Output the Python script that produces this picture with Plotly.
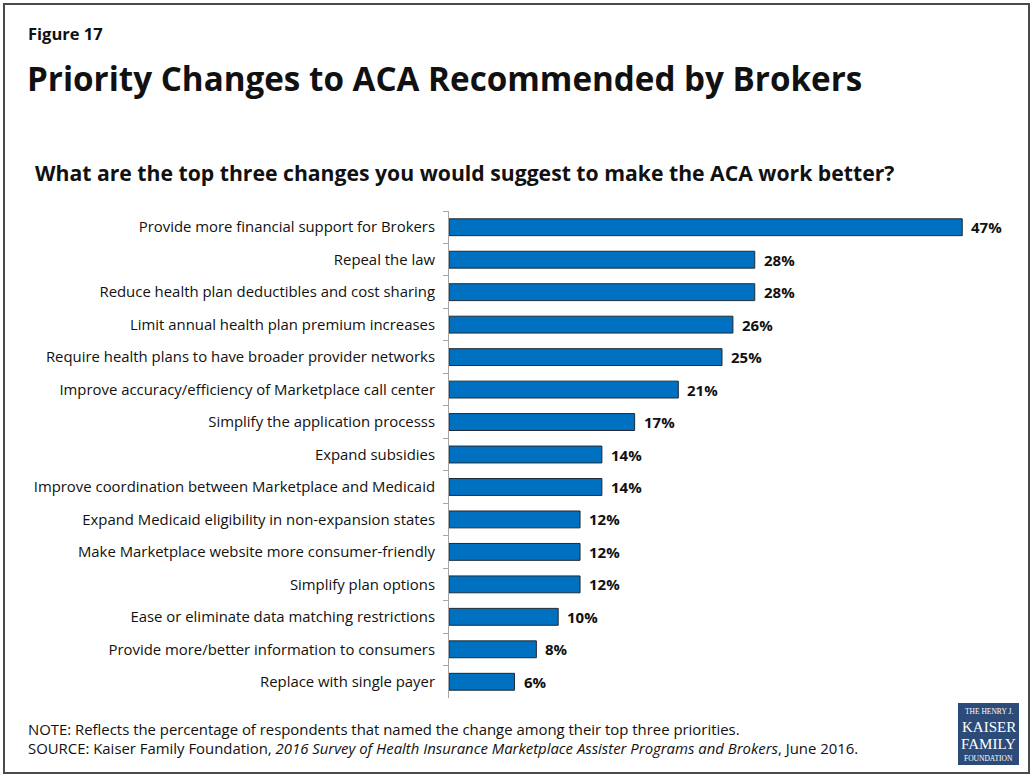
import plotly.graph_objects as go

# Survey responses: share of brokers naming each change among their top three
changes = [
    "Provide more financial support for Brokers",
    "Repeal the law",
    "Reduce health plan deductibles and cost sharing",
    "Limit annual health plan premium increases",
    "Require health plans to have broader provider networks",
    "Improve accuracy/efficiency of Marketplace call center",
    "Simplify the application processs",
    "Expand subsidies",
    "Improve coordination between Marketplace and Medicaid",
    "Expand Medicaid eligibility in non-expansion states",
    "Make Marketplace website more consumer-friendly",
    "Simplify plan options",
    "Ease or eliminate data matching restrictions",
    "Provide more/better information to consumers",
    "Replace with single payer",
]
percent = [47, 28, 28, 26, 25, 21, 17, 14, 14, 12, 12, 12, 10, 8, 6]
value_labels = [f"{v}%" for v in percent]

WIDTH, HEIGHT = 1032, 776
M_L, M_R, M_T, M_B = 449, 37, 211, 78
PW = WIDTH - M_L - M_R
PH = HEIGHT - M_T - M_B


def px_x(x):
    return (x - M_L) / PW


def px_y(y):
    return (HEIGHT - M_B - y) / PH


FONT = "Open Sans"

fig = go.Figure(
    go.Bar(
        x=percent,
        y=changes,
        orientation="h",
        marker=dict(color="#0070C0", line=dict(color="#1f2a36", width=1)),
        width=0.52,
        hoverinfo="skip",
    )
)

# Value labels just past the end of each bar
for cat, v, lab in zip(changes, percent, value_labels):
    fig.add_annotation(
        x=v, y=cat, xref="x", yref="y", xanchor="left", yanchor="middle",
        xshift=7, text=f"<b>{lab}</b>", showarrow=False,
        font=dict(family=FONT, size=15, color="#111111"),
    )

fig.update_layout(
    width=WIDTH,
    height=HEIGHT,
    margin=dict(l=M_L, r=M_R, t=M_T, b=M_B),
    paper_bgcolor="white",
    plot_bgcolor="white",
    showlegend=False,
    font=dict(family=FONT, color="#111111"),
    xaxis=dict(range=[0, 50], visible=False, fixedrange=True),
    yaxis=dict(
        autorange="reversed",
        showline=True,
        linecolor="#a6a6a6",
        linewidth=1,
        ticks="outside",
        tickson="boundaries",
        ticklen=5,
        tickcolor="#a6a6a6",
        tickfont=dict(family=FONT, size=14.9, color="#111111"),
        ticklabelstandoff=10,
        showgrid=False,
        fixedrange=True,
    ),
)

# Outer frame
fig.add_shape(
    type="rect", xref="paper", yref="paper",
    x0=px_x(4), x1=px_x(1029), y0=px_y(773), y1=px_y(4),
    line=dict(color="#4a4a4a", width=2), fillcolor="rgba(0,0,0,0)", layer="below",
)

texts = [
    (26, 33, "<b>Figure 17</b>", 16.5),
    (25, 78, "<b>Priority Changes to ACA Recommended by Brokers</b>", 33.2),
    (33, 172, "<b>What are the top three changes you would suggest to make the ACA work better?</b>", 21.2),
    (26, 729, "NOTE: Reflects the percentage of respondents that named the change among their top three priorities.", 14.9),
    (26, 748, "SOURCE: Kaiser Family Foundation, <i>2016 Survey of Health Insurance Marketplace Assister Programs and Brokers</i>, June 2016.", 14.9),
]
for x, y, t, s in texts:
    fig.add_annotation(
        x=px_x(x), y=px_y(y), xref="paper", yref="paper",
        xanchor="left", yanchor="middle", text=t, showarrow=False,
        font=dict(family=FONT, size=s, color="#111111"),
    )

# Foundation logo block
fig.add_shape(
    type="rect", xref="paper", yref="paper",
    x0=px_x(958), x1=px_x(1019), y0=px_y(765), y1=px_y(703),
    line=dict(width=0), fillcolor="#2d4b78",
)
logo = [
    (711, "THE HENRY J.", 7.5, "Liberation Serif"),
    (727, "KAISER", 15, "Liberation Serif"),
    (744, "FAMILY", 15, "Liberation Serif"),
    (758, "FOUNDATION", 7.5, "Liberation Serif"),
]
for y, t, s, f in logo:
    fig.add_annotation(
        x=px_x(988.5), y=px_y(y), xref="paper", yref="paper",
        xanchor="center", yanchor="middle", text=t, showarrow=False,
        font=dict(family=f, size=s, color="white"),
    )

fig.write_html("out.html")
